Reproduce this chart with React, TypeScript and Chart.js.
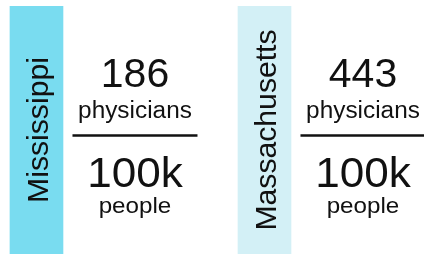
import React, { useEffect, useRef } from "react";
import { Chart, registerables } from "chart.js";

Chart.register(...registerables);

const states = ["Mississippi", "Massachusetts"];
const physicians = [186, 443];
const perPeople = ["100k", "100k"];
const numeratorUnit = "physicians";
const denominatorUnit = "people";
const boxHeights = [1, 1];
const boxColors = ["#79DCF0", "#D3F0F6"];

const FONT = '"Liberation Sans", Arial, Helvetica, sans-serif';

function stretchText(ctx: any, text: string, x: number, y: number, sx: number) {
  ctx.save();
  ctx.translate(x, y);
  ctx.scale(sx, 1);
  ctx.fillText(text, 0, 0);
  ctx.restore();
}

const fractionPlugin = {
  id: "fractionLabels",
  afterDatasetsDraw(chart: any) {
    const ctx = chart.ctx;
    const meta = chart.getDatasetMeta(0);
    meta.data.forEach((el: any, i: number) => {
      const { x, y, base } = el.getProps(["x", "y", "base"], true);
      const cy = (y + base) / 2;
      ctx.save();
      ctx.fillStyle = "#111";
      ctx.textAlign = "center";
      ctx.textBaseline = "alphabetic";
      // rotated state name inside the bar
      ctx.save();
      ctx.translate(x + 11.5, cy);
      ctx.rotate(-Math.PI / 2);
      ctx.font = `29px ${FONT}`;
      stretchText(ctx, states[i], 0, 0, 1.04);
      ctx.restore();
      // fraction to the right
      const tx = x + 98.5;
      ctx.font = `41px ${FONT}`;
      ctx.fillText(String(physicians[i]), tx, cy - 43);
      ctx.font = `23px ${FONT}`;
      stretchText(ctx, numeratorUnit, tx, cy - 12, 1.06);
      ctx.strokeStyle = "#111";
      ctx.lineWidth = 2.5;
      ctx.beginPath();
      ctx.moveTo(tx - 62.5, cy + 5.5);
      ctx.lineTo(tx + 62.5, cy + 5.5);
      ctx.stroke();
      ctx.font = `42px ${FONT}`;
      stretchText(ctx, perPeople[i], tx, cy + 57, 1.05);
      ctx.font = `22px ${FONT}`;
      stretchText(ctx, denominatorUnit, tx, cy + 83, 1.1);
      ctx.restore();
    });
  },
};

export default function App() {
  const ref = useRef<HTMLCanvasElement | null>(null);
  useEffect(() => {
    if (!ref.current) return;
    const chart = new Chart(ref.current, {
      type: "bar",
      data: {
        datasets: [
          {
            data: boxHeights.map((h, i) => ({ x: i, y: h })),
            backgroundColor: boxColors,
            borderWidth: 0,
            barThickness: 53,
          },
        ],
      },
      options: {
        animation: false,
        responsive: true,
        maintainAspectRatio: false,
        layout: { padding: { top: 6, bottom: 0, left: 0, right: 0 } },
        plugins: { legend: { display: false }, tooltip: { enabled: false } },
        scales: {
          x: { type: "linear", offset: false, min: -0.16, max: 1.6996, display: false },
          y: { min: 0, max: 1, display: false },
        },
      },
      plugins: [fractionPlugin],
    });
    return () => chart.destroy();
  }, []);
  return (
    <div style={{ position: "fixed", left: 0, top: 0, width: 424, height: 254, background: "#fff" }}>
      <canvas ref={ref} />
    </div>
  );
}
